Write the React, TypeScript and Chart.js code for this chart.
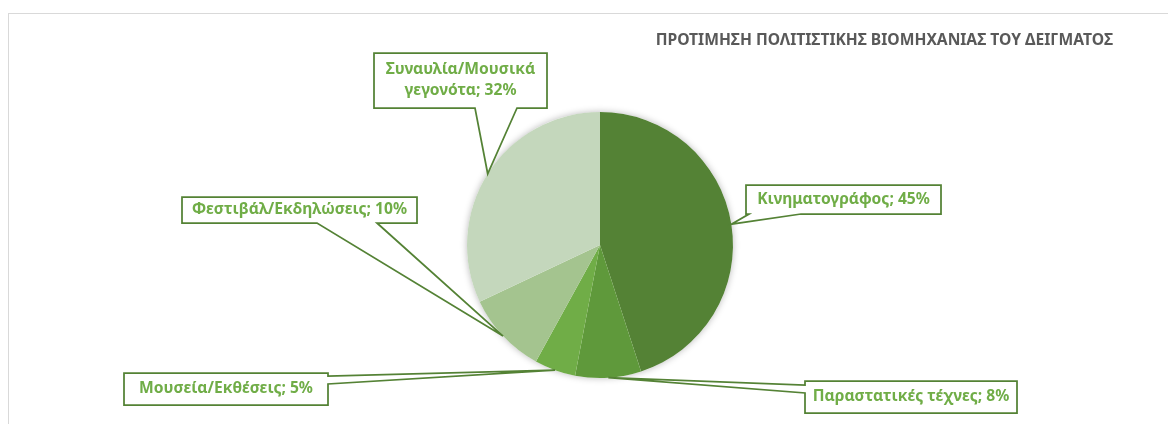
import { useEffect, useRef } from 'react';
import { Chart, registerables } from 'chart.js';

Chart.register(...registerables);

const TITLE = 'ΠΡΟΤΙΜΗΣΗ ΠΟΛΙΤΙΣΤΙΚΗΣ ΒΙΟΜΗΧΑΝΙΑΣ ΤΟΥ ΔΕΙΓΜΑΤΟΣ';
const CATEGORIES = [
  'Κινηματογράφος',
  'Παραστατικές τέχνες',
  'Μουσεία/Εκθέσεις',
  'Φεστιβάλ/Εκδηλώσεις',
  'Συναυλία/Μουσικά γεγονότα',
];
const VALUES = [45, 8, 5, 10, 32];
const SLICE_COLORS = ['#548235', '#5f993b', '#70ad47', '#a4c48f', '#c4d7bc'];

type Side = 'top' | 'bottom' | 'left' | 'right';
interface CalloutBox { x: number; y: number; w: number; h: number; side: Side; a: number; b: number; }

// layout of the callout boxes (canvas px), in category order
const CALLOUT_LAYOUT: CalloutBox[] = [
  { x: 737, y: 171, w: 195, h: 29, side: 'bottom', a: 3, b: 55 },
  { x: 796, y: 367, w: 212, h: 32, side: 'left', a: 4, b: 12 },
  { x: 115, y: 359, w: 204, h: 32, side: 'right', a: 3, b: 11 },
  { x: 173, y: 183, w: 235, h: 26, side: 'bottom', a: 135, b: 195 },
  { x: 365, y: 39, w: 173, h: 55, side: 'bottom', a: 101, b: 143 },
];

const FONT_FAMILY = '"Noto Sans", "DejaVu Sans", sans-serif';

function fitSize(ctx: CanvasRenderingContext2D, text: string, target: number) {
  ctx.font = `bold 100px ${FONT_FAMILY}`;
  return (100 * target) / ctx.measureText(text).width;
}

function wrap(ctx: CanvasRenderingContext2D, text: string, maxW: number) {
  const words = text.split(' ');
  const lines: string[] = [];
  let cur = '';
  for (const w of words) {
    const t = cur ? cur + ' ' + w : w;
    if (cur && ctx.measureText(t).width > maxW) {
      lines.push(cur);
      cur = w;
    } else cur = t;
  }
  if (cur) lines.push(cur);
  return lines;
}

const pieShadow = {
  id: 'pieShadow',
  beforeDatasetsDraw(chart: any) {
    const arc = chart.getDatasetMeta(0).data[0];
    if (!arc) return;
    const { x, y, outerRadius } = arc.getProps(['x', 'y', 'outerRadius'], true);
    const ctx = chart.ctx;
    ctx.save();
    ctx.shadowColor = 'rgba(0,0,0,0.28)';
    ctx.shadowBlur = 7;
    ctx.fillStyle = '#ffffff';
    ctx.beginPath();
    ctx.arc(x, y, outerRadius, 0, Math.PI * 2);
    ctx.fill();
    ctx.restore();
  },
};

const calloutsPlugin = {
  id: 'callouts',
  afterDraw(chart: any) {
    const ctx: CanvasRenderingContext2D = chart.ctx;
    const meta = chart.getDatasetMeta(0);
    ctx.save();
    // title
    const tSize = fitSize(ctx, TITLE, 458);
    ctx.font = `bold ${tSize}px ${FONT_FAMILY}`;
    ctx.fillStyle = '#595959';
    ctx.textAlign = 'right';
    ctx.textBaseline = 'middle';
    ctx.fillText(TITLE, 1104, 27);

    const lSize = fitSize(ctx, `${CATEGORIES[0]}; ${VALUES[0]}%`, 173);
    CATEGORIES.forEach((cat, i) => {
      const c = CALLOUT_LAYOUT[i];
      const el = meta.data[i];
      if (!c || !el) return;
      const p = el.getProps(['x', 'y', 'startAngle', 'endAngle', 'outerRadius'], true);
      const mid = (p.startAngle + p.endAngle) / 2;
      const tx = p.x + Math.cos(mid) * p.outerRadius;
      const ty = p.y + Math.sin(mid) * p.outerRadius;
      const { x, y, w, h, side, a, b } = c;
      ctx.beginPath();
      ctx.moveTo(x, y);
      if (side === 'top') { ctx.lineTo(x + a, y); ctx.lineTo(tx, ty); ctx.lineTo(x + b, y); }
      ctx.lineTo(x + w, y);
      if (side === 'right') { ctx.lineTo(x + w, y + a); ctx.lineTo(tx, ty); ctx.lineTo(x + w, y + b); }
      ctx.lineTo(x + w, y + h);
      if (side === 'bottom') { ctx.lineTo(x + b, y + h); ctx.lineTo(tx, ty); ctx.lineTo(x + a, y + h); }
      ctx.lineTo(x, y + h);
      if (side === 'left') { ctx.lineTo(x, y + b); ctx.lineTo(tx, ty); ctx.lineTo(x, y + a); }
      ctx.closePath();
      ctx.fillStyle = '#ffffff';
      ctx.fill();
      ctx.lineWidth = 1.75;
      ctx.strokeStyle = '#548235';
      ctx.lineJoin = 'miter';
      ctx.stroke();

      ctx.font = `bold ${lSize}px ${FONT_FAMILY}`;
      ctx.fillStyle = '#70ad47';
      ctx.textAlign = 'center';
      ctx.textBaseline = 'middle';
      const lines = wrap(ctx, `${cat}; ${VALUES[i]}%`, w - 10);
      const lh = 21;
      const cy = y + h / 2 - ((lines.length - 1) * lh) / 2;
      lines.forEach((ln, k) => ctx.fillText(ln, x + w / 2, cy + k * lh));
    });
    ctx.restore();
  },
};

export default function App() {
  const ref = useRef<HTMLCanvasElement>(null);
  useEffect(() => {
    document.body.style.overflow = 'hidden';
    const chart = new Chart(ref.current!, {
      type: 'pie',
      data: {
        labels: CATEGORIES,
        datasets: [
          {
            data: VALUES,
            backgroundColor: SLICE_COLORS,
            borderWidth: 0,
          },
        ],
      },
      options: {
        responsive: false,
        animation: false,
        layout: { padding: { left: 458, top: 98, right: 443, bottom: 46 } },
        plugins: {
          legend: { display: false },
          title: { display: false },
          tooltip: { enabled: false },
        },
      },
      plugins: [pieShadow, calloutsPlugin],
    });
    return () => chart.destroy();
  }, []);
  return (
    <div style={{ paddingTop: 5 }}>
      <div
        style={{
          width: 1168,
          height: 411,
          borderTop: '1px solid #d9d9d9',
          borderLeft: '1px solid #d9d9d9',
          boxSizing: 'border-box',
        }}
      >
        <canvas ref={ref} width={1167} height={410} style={{ display: 'block' }} />
      </div>
    </div>
  );
}
